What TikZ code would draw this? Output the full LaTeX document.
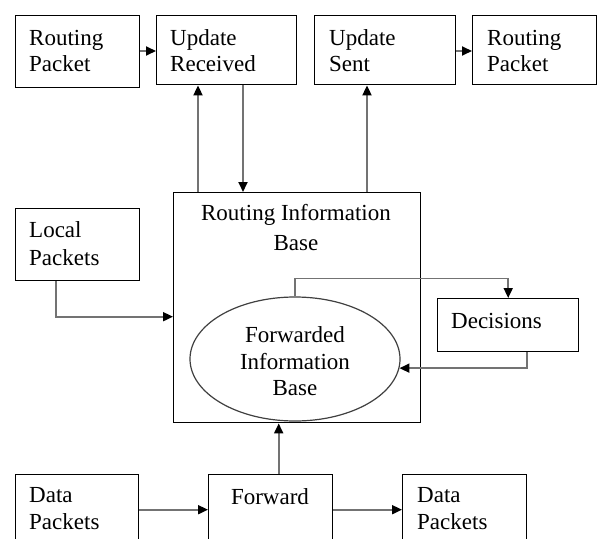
\documentclass[tikz,border=0pt]{standalone}
\usepackage{fontspec}
\setmainfont{Liberation Serif}
\usetikzlibrary{arrows.meta,calc,shapes.geometric}

\tikzset{
  box/.style={draw=black, line width=1.4pt, fill=white, anchor=north west, inner sep=0pt},
  txt/.style={anchor=base west, inner sep=0pt, font=\fontsize{23}{27}\selectfont},
  ctxt/.style={anchor=base, inner sep=0pt, font=\fontsize{23}{27}\selectfont},
  arr/.style={draw=black!55, line width=1.8pt,
    -{Triangle[length=10pt,width=9pt,color=black]}},
  link/.style={draw=black!55, line width=1.8pt}
}

\begin{document}
\begin{tikzpicture}[x=1pt,y=-1pt]
  \useasboundingbox (0,0) rectangle (599,538);
  \clip (0,0) rectangle (599,538);
  \fill[white] (0,0) rectangle (599,538);

  % boxes
  \node[box, minimum width=124pt, minimum height=72pt] (rp1) at (15,15) {};
  \node[box, minimum width=140pt, minimum height=69pt] (ur)  at (156,15) {};
  \node[box, minimum width=141pt, minimum height=69pt] (us)  at (314,15) {};
  \node[box, minimum width=124pt, minimum height=69pt] (rp2) at (472,15) {};
  \node[box, minimum width=124pt, minimum height=72pt] (lp)  at (15,208) {};
  \node[box, minimum width=247pt, minimum height=230pt] (rib) at (173,192) {};
  \node[box, minimum width=141pt, minimum height=53pt] (dec) at (437,298) {};
  \node[box, minimum width=123pt, minimum height=70pt] (dp1) at (15,474) {};
  \node[box, minimum width=124pt, minimum height=70pt] (fwd) at (208,474) {};
  \node[box, minimum width=124pt, minimum height=70pt] (dp2) at (402,474) {};

  % inner ellipse
  \node[ellipse, draw=black!75, line width=1.2pt, minimum width=210pt,
        minimum height=124pt, inner sep=0pt] (fib) at (295,359) {};

  % labels
  \node[txt] (rp1a) at (29,45) {Routing};
  \node[txt] (rp1b) at (29,71) {Packet};
  \node[txt] (ura) at (170,45) {Update};
  \node[txt] (urb) at (170,71) {Received};
  \node[txt] (usa) at (329,45) {Update};
  \node[txt] (usb) at (329,71) {Sent};
  \node[txt] (rp2a) at (487,45) {Routing};
  \node[txt] (rp2b) at (487,71) {Packet};
  \node[txt] (lpa) at (29,237) {Local};
  \node[txt] (lpb) at (29,265) {Packets};
  \node[ctxt] (riba) at (296,220) {Routing Information};
  \node[ctxt] (ribb) at (296,250) {Base};
  \node[ctxt] (fiba) at (295,342) {Forwarded};
  \node[ctxt] (fibb) at (295,369) {Information};
  \node[ctxt] (fibc) at (295,395) {Base};
  \node[txt] (deca) at (451,328) {Decisions};
  \node[txt] (dp1a) at (29,502) {Data};
  \node[txt] (dp1b) at (29,529) {Packets};
  \node[ctxt] (fwda) at (270,504) {Forward};
  \node[txt] (dp2a) at (417,502) {Data};
  \node[txt] (dp2b) at (417,529) {Packets};

  % routing updates
  \draw[arr] ($(rp1.north east)+(0,36)$) -- ($(ur.north west)+(0,36)$);
  \draw[arr] ($(us.north east)+(0,36)$) -- ($(rp2.north west)+(0,36)$);
  \draw[arr] ($(rib.north west)+(25,0)$) coordinate (u1) -- (u1 |- ur.south);
  \draw[arr] ($(ur.south west)+(87,0)$) coordinate (d1) -- (d1 |- rib.north);
  \draw[arr] ($(rib.north west)+(194,0)$) coordinate (u2) -- (u2 |- us.south);

  % local packets into the routing base
  \draw[arr] ($(lp.south west)+(41,0)$) |- ($(rib.west)+(0,9)$);

  % decisions loop
  \draw[arr] (fib.north) -- ++(0,-18) -| (dec.north);
  \draw[arr] ($(dec.south)+(18.5,0)$) |- (fib.-5);

  % data path
  \draw[arr] (dp1.east) -- (fwd.west);
  \draw[arr] (fwd.east) -- (dp2.west);
  \draw[arr] ($(fwd.north)+(8,0)$) coordinate (f1) -- (f1 |- rib.south);
\end{tikzpicture}
\end{document}
